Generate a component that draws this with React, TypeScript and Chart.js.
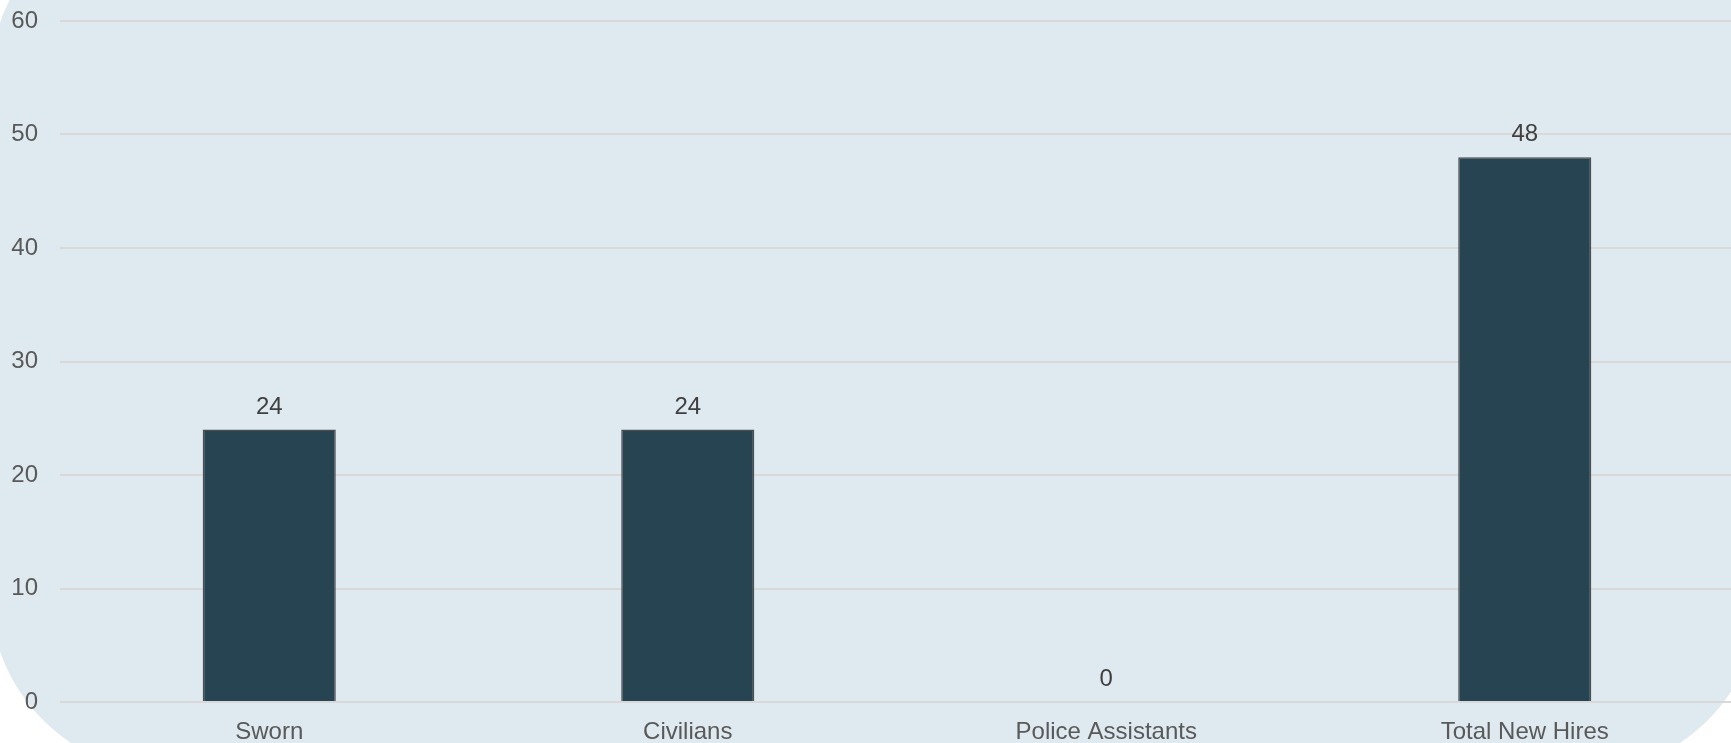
import React, { useEffect, useRef } from 'react';
import { Chart, registerables } from 'chart.js';

Chart.register(...registerables);

const categories = ['Sworn', 'Civilians', 'Police Assistants', 'Total New Hires'];
const newHires = [24, 24, 0, 48];
const yTicks = [0, 10, 20, 30, 40, 50, 60];

const FONT = "'Liberation Sans', Arial, sans-serif";

const valueLabels = {
  id: 'valueLabels',
  afterDatasetsDraw(chart: any) {
    const ctx = chart.ctx;
    const meta = chart.getDatasetMeta(0);
    ctx.save();
    ctx.font = `24px ${FONT}`;
    ctx.fillStyle = '#404040';
    ctx.textAlign = 'center';
    ctx.textBaseline = 'alphabetic';
    meta.data.forEach((bar: any, i: number) => {
      const v = chart.data.datasets[0].data[i];
      ctx.fillText(String(v), bar.x, bar.y - 16);
    });
    ctx.restore();
  },
};

export default function App() {
  const ref = useRef<HTMLCanvasElement>(null);

  useEffect(() => {
    if (!ref.current) return;
    const chart = new Chart(ref.current, {
      type: 'bar',
      data: {
        labels: categories,
        datasets: [
          {
            data: newHires,
            backgroundColor: '#264452',
            borderColor: '#4d4d4d',
            borderWidth: 1.5,
            barPercentage: 0.318,
            categoryPercentage: 1,
          },
        ],
      },
      options: {
        responsive: false,
        animation: false,
        devicePixelRatio: 1,
        layout: { padding: { top: 21, left: 0, right: 0, bottom: 0 } },
        plugins: {
          legend: { display: false },
          tooltip: { enabled: false },
        },
        scales: {
          x: {
            grid: { display: false },
            border: { display: false },
            ticks: {
              font: { family: FONT, size: 24 },
              color: '#595959',
              padding: 8,
              maxRotation: 0,
              autoSkip: false,
            },
            afterFit: (s: any) => {
              s.height = 41;
              s.paddingLeft = 0;
              s.paddingRight = 0;
            },
          },
          y: {
            min: 0,
            max: 60,
            grid: { color: '#d9d9d9', lineWidth: 2, drawTicks: false },
            border: { display: false },
            ticks: {
              font: { family: FONT, size: 24 },
              color: '#595959',
              padding: 22,
            },
            afterBuildTicks: (s: any) => {
              s.ticks = yTicks.map((v) => ({ value: v }));
            },
            afterFit: (s: any) => {
              s.width = 60;
              s.paddingTop = 0;
              s.paddingBottom = 0;
            },
          },
        },
      },
      plugins: [valueLabels],
    });
    return () => chart.destroy();
  }, []);

  return (
    <div
      style={{
        position: 'fixed',
        left: 0,
        top: 0,
        width: 1731,
        height: 743,
        overflow: 'hidden',
        background: '#ffffff',
      }}
    >
      <div
        style={{
          position: 'absolute',
          left: -10,
          top: -99,
          width: 1771,
          height: 872,
          borderRadius: 181,
          background: '#dfe9f0',
        }}
      />
      <canvas
        ref={ref}
        width={1734}
        height={743}
        style={{ position: 'absolute', left: 0, top: 0, width: 1734, height: 743 }}
      />
    </div>
  );
}
